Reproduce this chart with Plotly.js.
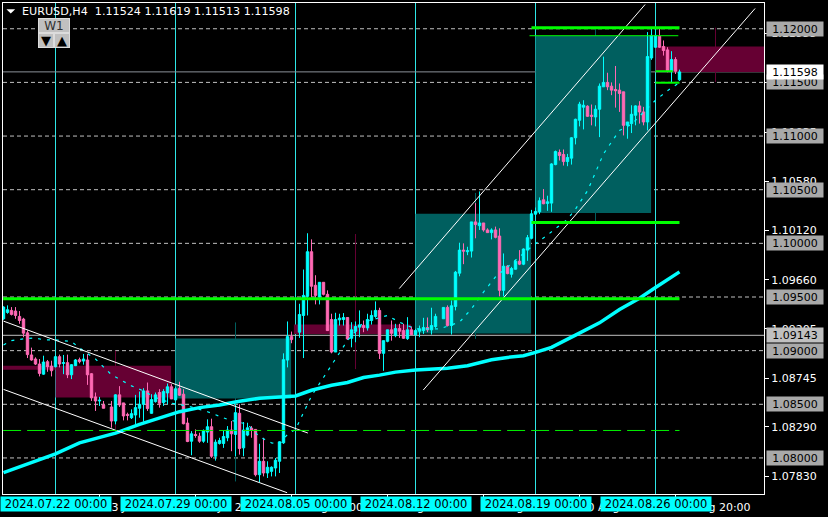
<!DOCTYPE html>
<html><head><meta charset="utf-8">
<script src="https://cdn.plot.ly/plotly-3.0.1.min.js"></script>
<style>html,body{margin:0;padding:0;background:#000;overflow:hidden}</style>
</head><body><div id="chart" style="width:828px;height:517px"></div>
<script>
// Prices are in points (1 point = 0.00001)
const barGaps=[13,60,96];
const openPts=[109297,109356,109375,109369,109319,109294,109166,108960,108922,108875,108781,108897,108856,
108850,108944,108881,108888,108775,108860,108916,108903,108913,108785,108569,108531,108494,
108475,108344,108588,108513,108406,108375,108400,108463,108500,108625,108416,108525,108610,108516,108606,108663,
108541,108647,108594,108325,108156,108219,108203,108156,108241,108291,108016,108135,108135,108188,108260,108219,108416,108094,108213,108278,108266,107844,107969,107860,107875,107906,107969,
108141,108912,109131,
109172,109328,109506,109922,109609,109500,109637,109525,109290,108987,109287,109290,109309,109115,109181,109219,109234,109212,109281,109319,109375,108975,109087,109194,109140,109206,109187,109112,109194,109147,
109181,109187,109215,109194,109225,
109297,109403,109234,109412,109722,109937,109922,109928,110200,110165,110190,110125,110100,110125,110068,109562,109787,109712,109759,109834,109806,109937,110047,
110272,110294,110406,110372,110375,110734,110847,110828,110762,110794,110984,111147,111269,111278,111194,111178,111250,111459,111500,111465,111434,111428,111412,111100,111116,111194,111281,111225,111131,
111728,111828,111931,111835,111803,111604,111713,111524];
const highPts=[109413,109422,109406,109406,109369,109306,109188,109028,108938,108922,108953,108913,108906,
108953,108963,108960,108963,108875,108922,108935,108969,108969,108791,108610,108569,108531,
108531,108594,108669,108513,108422,108453,108588,108619,108650,108703,108594,108610,108641,108641,108694,108688,
108663,108710,108641,108375,108250,108266,108235,108266,108360,108366,108172,108188,108260,108297,108344,108500,108500,108335,108328,108297,108266,108132,108188,107969,107922,108000,108156,
108975,109272,109178,
109437,109756,110094,110037,109703,109637,109637,109562,109344,109353,109344,109350,109309,109265,109272,109375,109281,109344,109375,109459,109400,109093,109194,109281,109250,109250,109250,109312,109225,109203,
109234,109306,109309,109400,109344,
109406,109422,109468,109743,110006,110000,109968,110200,110375,110484,110190,110140,110140,110156,110140,109906,109797,109781,109843,109937,109953,110078,110312,
110334,110428,110506,110444,110747,110865,110875,110875,110834,110990,111162,111319,111334,111287,111294,111287,111490,111740,111590,111500,111653,111490,111412,111131,111287,111287,111325,111272,111969,
112000,112000,112000,111891,111828,111791,111735,111619];
const lowPts=[109288,109344,109328,109297,109250,109125,108931,108906,108866,108760,108775,108803,108760,
108844,108844,108781,108744,108735,108856,108881,108869,108681,108531,108438,108485,108463,
108282,108313,108475,108350,108350,108363,108297,108375,108338,108438,108413,108516,108469,108485,108500,108550,
108531,108578,108313,108147,108025,108188,108141,108141,108141,108000,107975,108125,108094,108156,108063,108016,108031,108016,108203,108188,107828,107775,107828,107813,107828,107828,107860,
108131,108844,109069,
109119,108931,109328,109500,109431,109431,109515,109187,108975,108987,109234,109234,109100,109031,109078,109125,109172,109187,109243,109306,108922,108812,109078,109093,109125,109119,109109,109100,109150,109140,
109125,109156,109172,109150,109212,
109297,109225,109150,109375,109693,109806,109890,109868,110047,110125,110109,110100,110037,110047,109506,109506,109712,109681,109756,109797,109797,109837,110037,
110240,110272,110365,110303,110294,110728,110772,110725,110719,110734,110922,111090,111062,111178,111100,111090,110990,111459,111428,111381,111265,111225,111006,110975,111028,111100,111116,111100,111053,
111710,111822,111822,111750,111594,111500,111578,111513];
const closePts=[109406,109381,109338,109328,109281,109163,108963,108913,108875,108788,108894,108850,108813,
108944,108875,108888,108775,108869,108913,108897,108922,108775,108560,108531,108538,108463,
108344,108588,108494,108391,108397,108413,108469,108500,108625,108460,108544,108588,108510,108619,108663,108550,
108644,108585,108319,108153,108225,108209,108156,108250,108291,108016,108147,108163,108200,108260,108225,108422,108088,108260,108281,108256,107844,107969,107860,107913,107913,107978,108150,
108916,109131,109103,
109337,109515,109922,109600,109515,109637,109525,109187,108987,109290,109303,109309,109109,109194,109225,109240,109215,109290,109328,109375,108975,109093,109194,109162,109206,109181,109115,109194,109150,109187,
109203,109215,109194,109234,109319,
109403,109234,109418,109731,109937,109928,109931,110200,110175,110190,110125,110100,110125,110056,109562,109787,109718,109765,109834,109806,109947,110053,110275,
110297,110397,110369,110387,110740,110856,110819,110762,110800,110984,111156,111297,111287,111184,111184,111250,111465,111500,111459,111428,111422,111397,111100,111131,111203,111281,111225,111131,111741,
111938,111938,111828,111797,111610,111713,111604,111598];

const slowMaBars=[-13,-8,-4,0,6,11,15,21,26,31,36,41,46,51,56,60,64,69,73,77,81,85,90,94,98,103,106,109,113,117,120,124,130,136,141,146,150,153,156];
const slowMaPts=[107863,107931,107985,108038,108141,108194,108231,108313,108369,108431,108469,108494,108528,108556,108569,108578,108631,108678,108703,108750,108772,108800,108819,108828,108837,108859,108884,108915,108937,108953,108984,109030,109145,109259,109384,109489,109589,109657,109734];
const fastMaBars=[-13,-11,-8,-5,-3,0,4,6,10,14,19,22,25,29,33,38,43,48,51,54,56,58,60,64,67,70,73,77,83,86,90,96,101,104,107,110,114,119,123,128,130,133,135,137,139,141,144,147,150,153,156];
const fastMaPts=[109053,109094,109110,109119,109100,109100,109085,109025,108922,108775,108672,108625,108563,108510,108485,108431,108360,108313,108197,108141,108131,108219,108266,108578,108750,108922,109094,109265,109328,109265,109203,109203,109265,109390,109546,109687,109812,109968,110078,110225,110319,110490,110662,110834,110944,111053,111109,111225,111334,111422,111500];

const roundLevels=[1.12,1.115,1.11,1.105,1.10,1.095,1.09,1.085,1.08];
const weekBars=[0,30,60,90,120,150];
const weekDates=["2024.07.22 00:00","2024.07.29 00:00","2024.08.05 00:00","2024.08.12 00:00","2024.08.19 00:00","2024.08.26 00:00"];
const scaleTicks=[1.11955,1.11495,1.11035,1.1058,1.1012,1.0966,1.09205,1.08745,1.0829,1.0783];
const scaleText=["1.11955","1.11495","1.11035","1.10580","1.10120","1.09660","1.09205","1.08745","1.08290","1.07830"];
const timeTicks=[11,35,59,83,107,131,155];
const timeText=["23 Jul 20:00","29 Jul 20:00","2 Aug 20:00","8 Aug 20:00","14 Aug 20:00","20 Aug 20:00","26 Aug 20:00"];

// weekly boxes: [bar start, bar end, price top, price bottom]
const tealBoxes=[[30,58.9,1.09113,1.08553],[90,118.9,1.10275,1.09159],[120,148.9,1.11935,1.10282]];
const maroonBoxes=[[-13.1,0,1.08859,1.08822],[0,28.9,1.08859,1.08563],[59.6,88.9,1.09244,1.09156],[150,177.2,1.11835,1.11598]];
const tealWicks=[[45,1.09263,1.07781],[105,1.1047,1.0911],[135,1.12,1.1021]];
const maroonWicks=[[15,1.09,1.0827],[75,1.10087,1.08828],[165,1.1201,1.11503]];

const currentPrice=1.11598, lowerLevel=1.09143;

const channelLines=[
 {b:[-13,63.1],p:[1.09275,1.08232]},
 {b:[-13,57.9],p:[1.08639,1.07676]},
 {b:[85.95,147.4],p:[1.09579,1.12226]},
 {b:[91.95,174.9],p:[1.08633,1.12189]}];
const thickGreen=[
 {b:[-13.1,156],p:1.09484,w:3},
 {b:[119,156],p:1.12009,w:3},
 {b:[119,156],p:1.10194,w:3},
 {b:[150,154.3],p:1.11604,w:2},
 {b:[150,156],p:1.11497,w:2}];
const thinGreenLevel=1.11935, dashGreenLevel=1.08256;

const barIndex=[];
for(let i=-13;i<=156;i++){ if(!barGaps.includes(i)) barIndex.push(i); }
const px=v=>v/1e5;

const shapes=[];
const TEAL="#005F5F", MAROON="#660033";
tealWicks.forEach(w=>shapes.push({type:'line',xref:'x',yref:'y',x0:w[0],x1:w[0],y0:w[1],y1:w[2],line:{color:TEAL,width:1},layer:'below'}));
maroonWicks.forEach(w=>shapes.push({type:'line',xref:'x',yref:'y',x0:w[0],x1:w[0],y0:w[1],y1:w[2],line:{color:MAROON,width:1},layer:'below'}));
tealBoxes.forEach(b=>shapes.push({type:'rect',xref:'x',yref:'y',x0:b[0],x1:b[1],y0:b[2],y1:b[3],fillcolor:TEAL,line:{width:0},layer:'below'}));
maroonBoxes.forEach(b=>shapes.push({type:'rect',xref:'x',yref:'y',x0:b[0],x1:b[1],y0:b[2],y1:b[3],fillcolor:MAROON,line:{width:0},layer:'below'}));
roundLevels.forEach(l=>shapes.push({type:'line',xref:'paper',yref:'y',x0:0,x1:1,y0:l,y1:l,line:{color:'#C0C0C0',width:1,dash:'4px,3px'},layer:'below'}));
weekBars.forEach(b=>shapes.push({type:'line',xref:'x',yref:'paper',x0:b,x1:b,y0:0,y1:1,line:{color:'#2EE6E6',width:1},layer:'below'}));
shapes.push({type:'line',xref:'paper',yref:'y',x0:0,x1:1,y0:currentPrice,y1:currentPrice,line:{color:'#8A9098',width:1},layer:'below'});
shapes.push({type:'line',xref:'paper',yref:'y',x0:0,x1:1,y0:lowerLevel,y1:lowerLevel,line:{color:'#C0C0C0',width:1},layer:'below'});
// flag triangle
shapes.push({type:'path',xref:'paper',yref:'paper',path:'M 0.0045 0.9875 L 0.016 0.9875 L 0.0102 0.9785 Z',fillcolor:'#FFFFFF',line:{width:0}});

const lineTrace=(x,y,color,width,dash)=>({type:'scatter',mode:'lines',x,y,hoverinfo:'skip',showlegend:false,line:{color,width,dash:dash||'solid',shape:'linear'}});

const traces=[{
 type:'candlestick',x:barIndex,open:openPts.map(px),high:highPts.map(px),low:lowPts.map(px),close:closePts.map(px),
 increasing:{line:{color:'#00FFFF',width:1},fillcolor:'#00FFFF'},
 decreasing:{line:{color:'#FF69B4',width:1},fillcolor:'#FF69B4'},
 whiskerwidth:0,showlegend:false,hoverinfo:'skip'
}];
traces.push(lineTrace(slowMaBars,slowMaPts.map(px),'#00FFFF',3.5));
traces.push(lineTrace(fastMaBars,fastMaPts.map(px),'#00FFFF',1.2,'3px,6px'));
channelLines.forEach(c=>traces.push(lineTrace(c.b,c.p,'#FFFFFF',1)));
thickGreen.forEach(g=>traces.push(lineTrace(g.b,[g.p,g.p],'#00FF00',g.w)));
traces.push(lineTrace([118.5,155.7],[thinGreenLevel,thinGreenLevel],'#00FF00',1));
traces.push(lineTrace([-13.1,156],[dashGreenLevel,dashGreenLevel],'#00F000',1,'18px,6px'));

const F="DejaVu Sans";
const annotations=[];
const hdr=(text,x,y,opts)=>Object.assign({text,xref:'paper',yref:'paper',x,y,showarrow:false,xanchor:'left',yanchor:'middle',borderpad:0,font:{family:F,size:11.15,color:'#FFFFFF'}},opts||{});
annotations.push(hdr("EURUSD,H4  1.11524 1.11619 1.11513 1.11598",0.024,0.982));
// chart-object buttons
annotations.push(hdr("W1",(38-3)/761,1-(25.5-3)/491,{width:30,height:13,align:'center',bgcolor:'#C0C0C0',bordercolor:'#DCDCDC',borderwidth:1,font:{family:F,size:12,color:'#303030'}}));
annotations.push(hdr("▼",(38-3)/761,1-(40.5-3)/491,{width:14,height:13,align:'center',bgcolor:'#C0C0C0',bordercolor:'#DCDCDC',borderwidth:1,font:{family:F,size:13,color:'#000'}}));
annotations.push(hdr("▲",(54-3)/761,1-(40.5-3)/491,{width:14,height:13,align:'center',bgcolor:'#C0C0C0',bordercolor:'#DCDCDC',borderwidth:1,font:{family:F,size:13,color:'#000'}}));
weekBars.forEach((b,i)=>annotations.push({text:weekDates[i],xref:'x',yref:'paper',x:b,y:-0.0204,showarrow:false,xanchor:'center',yanchor:'middle',width:110,height:14,borderpad:0,bgcolor:'#00FFFF',font:{family:F,size:11.5,color:'#000'}}));
const priceLabel=(val,text,bg)=>annotations.push({text,xref:'paper',yref:'y',x:(766-3)/761,y:val,showarrow:false,xanchor:'left',yanchor:'middle',width:56,height:14,align:'center',borderpad:0,bgcolor:bg,font:{family:F,size:11,color:'#000'}});
roundLevels.forEach(l=>priceLabel(l,l.toFixed(5),'#A9A9A9'));
priceLabel(lowerLevel,lowerLevel.toFixed(5),'#C0C0C0');
priceLabel(currentPrice,currentPrice.toFixed(5),'#FFFFFF');

const layout={
 width:828,height:517,autosize:false,showlegend:false,
 paper_bgcolor:'#000',plot_bgcolor:'#000',
 margin:{l:3,r:64,t:3,b:23,pad:0},
 font:{family:F,size:11,color:'#FFFFFF'},
 xaxis:{type:'linear',range:[-13.125,177.125],rangeslider:{visible:false},showgrid:false,zeroline:false,
   showline:true,linecolor:'#FFFFFF',linewidth:1,mirror:true,
   tickmode:'array',tickvals:timeTicks,ticktext:timeText,ticks:'outside',ticklen:3,tickcolor:'#FFFFFF',ticklabelshift:38,
   tickfont:{family:F,size:11,color:'#FFFFFF'},tickangle:0,fixedrange:true},
 yaxis:{type:'linear',side:'right',range:[1.07664,1.1224],showgrid:false,zeroline:false,
   showline:true,linecolor:'#FFFFFF',linewidth:1,mirror:true,
   tickmode:'array',tickvals:scaleTicks,ticktext:scaleText,ticks:'outside',ticklen:4,tickcolor:'#FFFFFF',
   tickfont:{family:F,size:11,color:'#FFFFFF'},fixedrange:true},
 shapes,annotations,boxgap:0.15
};
Plotly.newPlot('chart',traces,layout,{staticPlot:true,displayModeBar:false});
</script></body></html>
